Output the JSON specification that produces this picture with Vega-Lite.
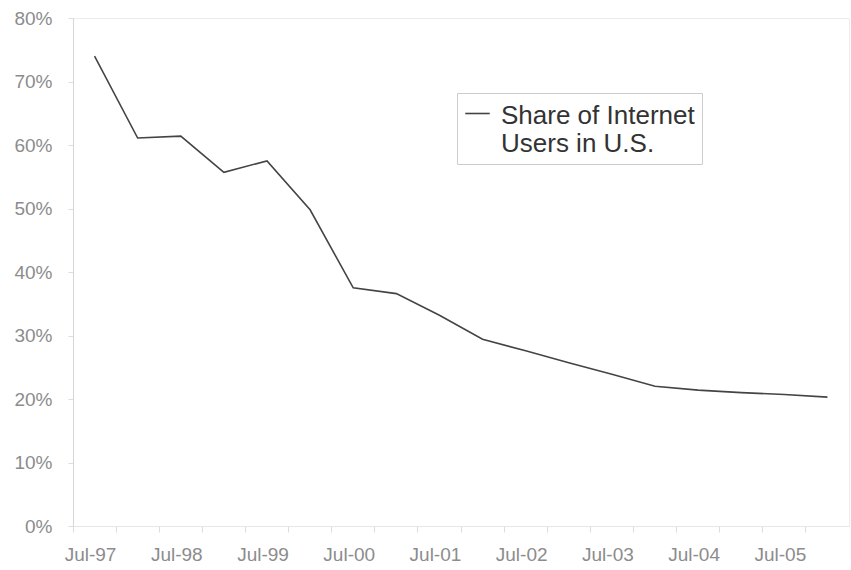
{
  "$schema": "https://vega.github.io/schema/vega-lite/v6.json",
  "width": 776,
  "height": 508,
  "autosize": {"type": "none"},
  "padding": {"left": 73, "top": 18, "right": 2, "bottom": 44},
  "background": "white",
  "config": {
    "view": {"stroke": "#ececec"},
    "font": "Liberation Sans",
    "style": {"guide-label": {"dy": -11, "lineHeight": 28}}
  },
  "data": {
    "values": [
      {"period": "Jul-97", "share": 74.0, "series": "Share of Internet Users in U.S."},
      {"period": "Jan-98", "share": 61.1, "series": "Share of Internet Users in U.S."},
      {"period": "Jul-98", "share": 61.4, "series": "Share of Internet Users in U.S."},
      {"period": "Jan-99", "share": 55.7, "series": "Share of Internet Users in U.S."},
      {"period": "Jul-99", "share": 57.5, "series": "Share of Internet Users in U.S."},
      {"period": "Jan-00", "share": 49.8, "series": "Share of Internet Users in U.S."},
      {"period": "Jul-00", "share": 37.5, "series": "Share of Internet Users in U.S."},
      {"period": "Jan-01", "share": 36.6, "series": "Share of Internet Users in U.S."},
      {"period": "Jul-01", "share": 33.2, "series": "Share of Internet Users in U.S."},
      {"period": "Jan-02", "share": 29.4, "series": "Share of Internet Users in U.S."},
      {"period": "Jul-02", "share": 27.6, "series": "Share of Internet Users in U.S."},
      {"period": "Jan-03", "share": 25.7, "series": "Share of Internet Users in U.S."},
      {"period": "Jul-03", "share": 23.9, "series": "Share of Internet Users in U.S."},
      {"period": "Jan-04", "share": 22.0, "series": "Share of Internet Users in U.S."},
      {"period": "Jul-04", "share": 21.4, "series": "Share of Internet Users in U.S."},
      {"period": "Jan-05", "share": 21.0, "series": "Share of Internet Users in U.S."},
      {"period": "Jul-05", "share": 20.7, "series": "Share of Internet Users in U.S."},
      {"period": "Jan-06", "share": 20.3, "series": "Share of Internet Users in U.S."}
    ]
  },
  "mark": {"type": "line", "strokeWidth": 1.6},
  "encoding": {
    "x": {
      "field": "period",
      "type": "ordinal",
      "sort": null,
      "bandPosition": 0.5,
      "scale": {"type": "band", "paddingInner": 0, "paddingOuter": 0},
      "axis": {
        "title": null,
        "bandPosition": 0,
        "labelAngle": 0,
        "labelExpr": "indexof(datum.label, 'Jul') == 0 ? datum.label : ''",
        "labelOffset": -4,
        "labelFontSize": 19,
        "labelColor": "#8c8c8c",
        "labelPadding": 24,
        "labelOverlap": false,
        "tickSize": 6,
        "tickColor": "#dddddd",
        "domainColor": "#e6e6e6",
        "grid": false
      }
    },
    "y": {
      "field": "share",
      "type": "quantitative",
      "scale": {"domain": [0, 80], "nice": false},
      "axis": {
        "title": null,
        "values": [0, 10, 20, 30, 40, 50, 60, 70, 80],
        "labelExpr": "datum.value + '%'",
        "labelFontSize": 19,
        "labelColor": "#8c8c8c",
        "labelPadding": 16,
        "labelOffset": 11,
        "labelFlush": false,
        "labelOverlap": false,
        "tickSize": 5,
        "tickColor": "#dddddd",
        "domainColor": "#d6d6d6",
        "grid": false
      }
    },
    "color": {
      "field": "series",
      "type": "nominal",
      "scale": {"range": ["#444444"]},
      "legend": {
        "orient": "none",
        "legendX": 384,
        "legendY": 75,
        "title": null,
        "strokeColor": "#cccccc",
        "fillColor": "white",
        "padding": 7,
        "symbolType": "stroke",
        "symbolSize": 600,
        "symbolStrokeWidth": 1.6,
        "labelFontSize": 26,
        "labelColor": "#333333",
        "labelExpr": "['Share of Internet', 'Users in U.S.']",
        "labelLimit": 400,
        "labelOffset": 10,
        "labelBaseline": "top"
      }
    }
  }
}
